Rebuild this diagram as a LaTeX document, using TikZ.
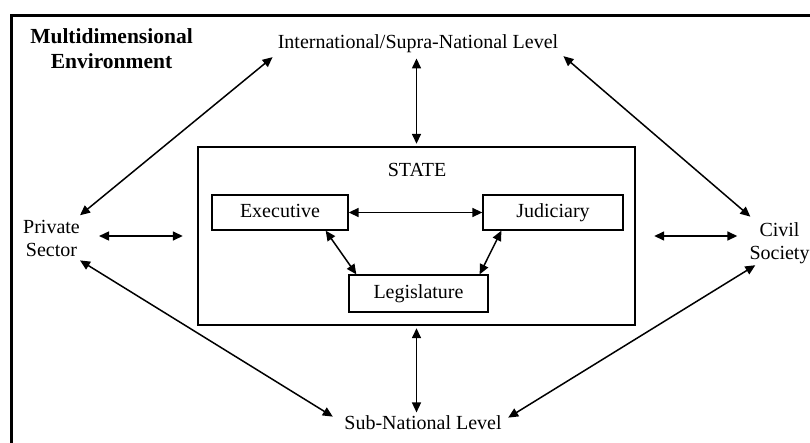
\documentclass[tikz,border=0pt]{standalone}
\usepackage{fontspec}
\setmainfont{Liberation Serif}
\usetikzlibrary{arrows.meta,calc}
\begin{document}
\begin{tikzpicture}[x=1pt,y=-1pt,
  txt/.style={font=\fontsize{20pt}{22.5pt}\selectfont, inner sep=0pt, align=center},
  ttl/.style={font=\fontsize{21.5pt}{25pt}\selectfont\bfseries, inner sep=0pt, align=center},
  box/.style={draw, line width=1.3pt, minimum height=35pt, inner sep=0pt, text height=13.5pt, text depth=4pt, font=\fontsize{20pt}{22pt}\selectfont},
  arr/.style={{Triangle[length=10pt,width=9pt]}-{Triangle[length=10pt,width=9pt]}, line width=1.5pt}]
\useasboundingbox (0,0) rectangle (810,442);
\clip (0,0) rectangle (810,442);
% outer frame (extends beyond the picture)
\draw[line width=3pt] (11.5,460) -- (11.5,15.5) -- (830,15.5);
% title
\node[ttl, anchor=base] (title) at (111.5,68) {Multidimensional\\Environment};
% outer actors
\node[txt, anchor=base] (intl) at (418,48) {International/Supra-National Level};
\node[txt, anchor=base] (sub) at (423,429) {Sub-National Level};
\node[txt, anchor=base] (priv) at (51.5,256) {Private\\Sector};
\node[txt, anchor=base] (civ) at (779.5,259) {Civil\\Society};
% state
\node[draw, line width=2.4pt, minimum width=437pt, minimum height=178pt, inner sep=0pt] (state) at (416.5,236) {};
\node[txt, anchor=base] (statelbl) at (417,176) {STATE};
\node[box, minimum width=136pt] (exec) at (280,212.5) {Executive};
\node[box, minimum width=140pt] (jud) at (553,212.5) {Judiciary};
\node[box, minimum width=139pt, minimum height=37pt] (leg) at (418.5,293.5) {Legislature};
% inner connectors
\draw[arr] (exec.east) -- (jud.west);
\draw[arr] ([xshift=-23pt]exec.south east) -- ([xshift=8pt]leg.north west);
\draw[arr] ([xshift=19pt]jud.south west) -- ([xshift=-9pt]leg.north east);
% vertical connectors
\draw[arr] ([yshift=-6pt]intl.south -| state.north) -- ([yshift=2pt]state.north);
\draw[arr] ([yshift=-2pt]state.south) -- ([yshift=2.5pt]state.south |- sub.north);
% horizontal connectors
\draw[arr] ([xshift=19pt]priv.east |- state.west) -- ([xshift=-14pt]state.west);
\draw[arr] ([xshift=18pt]state.east) -- ([xshift=-12pt]civ.west |- state.east);
% diagonal connectors
\draw[arr] ([shift={(0,-4.8)}]priv.north east) -- ([shift={(-5,4.7)}]intl.south west);
\draw[arr] ([shift={(5,3.7)}]intl.south east) -- ([shift={(1,-5.8)}]civ.north west);
\draw[arr] ([shift={(0,4)}]priv.south east) -- ([shift={(-11.4,1.7)}]sub.north west);
\draw[arr] ([shift={(6,1.7)}]civ.south west) -- ([shift={(6.4,2.7)}]sub.north east);
\end{tikzpicture}
\end{document}
